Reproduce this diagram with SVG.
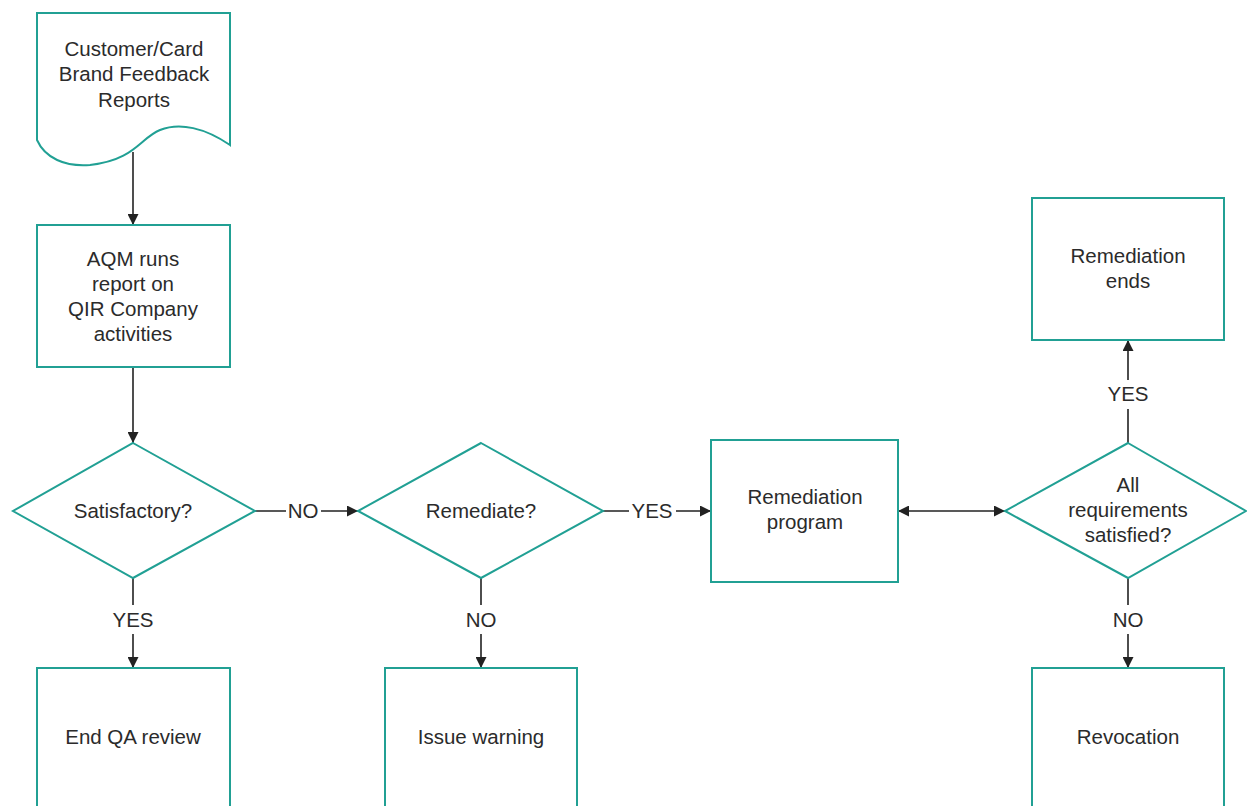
<svg xmlns="http://www.w3.org/2000/svg" width="1247" height="806" viewBox="0 0 1247 806">
<defs>
<style>
.n{fill:#fff;stroke:#21a094;stroke-width:2}
.t{font-family:"Liberation Sans",Arial,sans-serif;font-size:20.5px;fill:#2b2b2b;text-anchor:middle}
.c{stroke:#222;stroke-width:1.6;fill:none}
.l{font-family:"Liberation Sans",Arial,sans-serif;font-size:20.5px;fill:#2b2b2b;text-anchor:middle}
</style>
<marker id="a" viewBox="0 0 10 10" refX="10" refY="5" markerWidth="12" markerHeight="11" markerUnits="userSpaceOnUse" orient="auto-start-reverse"><path d="M0,0L10,5L0,10z" fill="#222"/></marker>
</defs>
<rect width="1247" height="806" fill="#fff"/>
<g id="connectors">
<path class="c" d="M133,152V225" marker-end="url(#a)"/>
<path class="c" d="M133,367V443" marker-end="url(#a)"/>
<path class="c" d="M255,511H286M321,511H358" marker-end="url(#a)"/>
<text class="l" x="303" y="518">NO</text>
<path class="c" d="M603,511H629M676,511H711" marker-end="url(#a)"/>
<text class="l" x="652" y="518">YES</text>
<path class="c" d="M898,511H1005" marker-start="url(#a)" marker-end="url(#a)"/>
<path class="c" d="M133,578V605M133,634V668" marker-end="url(#a)"/>
<text class="l" x="133" y="627">YES</text>
<path class="c" d="M481,578V605M481,634V668" marker-end="url(#a)"/>
<text class="l" x="481" y="627">NO</text>
<path class="c" d="M1128,443V409M1128,380V340" marker-end="url(#a)"/>
<text class="l" x="1128" y="401">YES</text>
<path class="c" d="M1128,578V605M1128,634V668" marker-end="url(#a)"/>
<text class="l" x="1128" y="627">NO</text>
</g>
<g id="feedback">
<path class="n" d="M37,13H230V145C205,128 180,122 160,130C140,138 135,160 90,165C65,167 45,158 37,140Z"/>
<text class="t" x="134" y="56">Customer/Card</text>
<text class="t" x="134" y="81">Brand Feedback</text>
<text class="t" x="134" y="107">Reports</text>
</g>
<g id="aqm">
<rect class="n" x="37" y="225" width="193" height="142"/>
<text class="t" x="133" y="266">AQM runs</text>
<text class="t" x="133" y="291">report on</text>
<text class="t" x="133" y="316">QIR Company</text>
<text class="t" x="133" y="341">activities</text>
</g>
<g id="satisfactory">
<path class="n" d="M133,443L255,511L133,578L13,511Z"/>
<text class="t" x="133" y="518">Satisfactory?</text>
</g>
<g id="remediate">
<path class="n" d="M481,443L603,511L481,578L358,511Z"/>
<text class="t" x="481" y="518">Remediate?</text>
</g>
<g id="program">
<rect class="n" x="711" y="440" width="187" height="142"/>
<text class="t" x="805" y="504">Remediation</text>
<text class="t" x="805" y="529">program</text>
</g>
<g id="requirements">
<path class="n" d="M1128,443L1246,511L1128,578L1005,511Z"/>
<text class="t" x="1128" y="492">All</text>
<text class="t" x="1128" y="517">requirements</text>
<text class="t" x="1128" y="542">satisfied?</text>
</g>
<g id="ends">
<rect class="n" x="1032" y="198" width="192" height="142"/>
<text class="t" x="1128" y="263">Remediation</text>
<text class="t" x="1128" y="288">ends</text>
</g>
<g id="endqa">
<rect class="n" x="37" y="668" width="193" height="160"/>
<text class="t" x="133" y="744">End QA review</text>
</g>
<g id="warning">
<rect class="n" x="385" y="668" width="192" height="160"/>
<text class="t" x="481" y="744">Issue warning</text>
</g>
<g id="revocation">
<rect class="n" x="1032" y="668" width="192" height="160"/>
<text class="t" x="1128" y="744">Revocation</text>
</g>
</svg>
